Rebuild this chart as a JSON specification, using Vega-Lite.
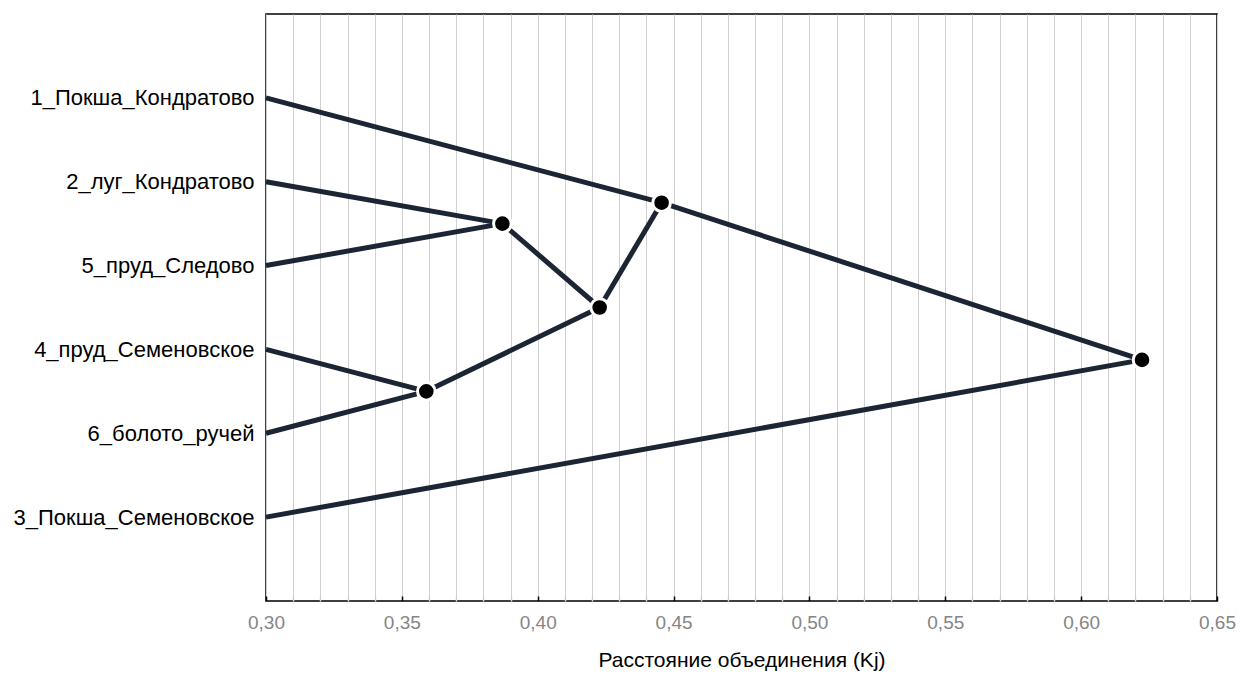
{
  "$schema": "https://vega.github.io/schema/vega-lite/v6.json",
  "width": 951,
  "height": 587,
  "autosize": "none",
  "padding": {"left": 266, "top": 14, "right": 23, "bottom": 74},
  "background": "white",
  "config": {
    "view": {"stroke": "#000000", "strokeWidth": 1.5},
    "font": "Liberation Sans"
  },
  "datasets": {
    "segments": [
      {"from": "1_Покша_Кондратово", "x": 0.30, "y": 1, "x2": 0.4456, "y2": 2.25},
      {"from": "2_луг_Кондратово", "x": 0.30, "y": 2, "x2": 0.387, "y2": 2.5},
      {"from": "5_пруд_Следово", "x": 0.30, "y": 3, "x2": 0.387, "y2": 2.5},
      {"from": "4_пруд_Семеновское", "x": 0.30, "y": 4, "x2": 0.359, "y2": 4.5},
      {"from": "6_болото_ручей", "x": 0.30, "y": 5, "x2": 0.359, "y2": 4.5},
      {"from": "3_Покша_Семеновское", "x": 0.30, "y": 6, "x2": 0.6224, "y2": 4.125},
      {"from": "A", "x": 0.387, "y": 2.5, "x2": 0.4228, "y2": 3.5},
      {"from": "B", "x": 0.359, "y": 4.5, "x2": 0.4228, "y2": 3.5},
      {"from": "C", "x": 0.4228, "y": 3.5, "x2": 0.4456, "y2": 2.25},
      {"from": "D", "x": 0.4456, "y": 2.25, "x2": 0.6224, "y2": 4.125}
    ],
    "nodes": [
      {"node": "A", "x": 0.387, "y": 2.5},
      {"node": "B", "x": 0.359, "y": 4.5},
      {"node": "C", "x": 0.4228, "y": 3.5},
      {"node": "D", "x": 0.4456, "y": 2.25},
      {"node": "E", "x": 0.6224, "y": 4.125}
    ]
  },
  "encoding": {
    "x": {
      "field": "x", "type": "quantitative",
      "scale": {"domain": [0.30, 0.65], "nice": false, "zero": false},
      "axis": {
        "values": [0.30,0.31,0.32,0.33,0.34,0.35,0.36,0.37,0.38,0.39,0.40,0.41,0.42,0.43,0.44,0.45,0.46,0.47,0.48,0.49,0.50,0.51,0.52,0.53,0.54,0.55,0.56,0.57,0.58,0.59,0.60,0.61,0.62,0.63,0.64,0.65],
        "labelExpr": "round(datum.value*100) % 5 == 0 ? replace(format(datum.value, '.2f'), '.', ',') : ''",
        "labelOverlap": false,
        "grid": true, "gridColor": "#d0d0d0", "gridWidth": 1,
        "ticks": true, "tickSize": -5, "tickWidth": 1.5,
        "tickColor": {"condition": {"test": "round(datum.value*100) % 5 == 0", "value": "#000000"}, "value": "#d0d0d0"},
        "domain": false,
        "labelColor": "#858585", "labelFontSize": 19, "labelPadding": 17,
        "labelFlush": false,
        "title": "Расстояние объединения (Kj)",
        "titleFontSize": 21, "titleFontWeight": "normal", "titleColor": "#000000",
        "titlePadding": 17
      }
    },
    "y": {
      "field": "y", "type": "quantitative",
      "scale": {"domain": [0, 7], "reverse": true, "nice": false, "zero": false},
      "axis": {
        "values": [1, 2, 3, 4, 5, 6],
        "labelExpr": "['', '1_Покша_Кондратово', '2_луг_Кондратово', '5_пруд_Следово', '4_пруд_Семеновское', '6_болото_ручей', '3_Покша_Семеновское'][datum.value]",
        "grid": false, "ticks": false, "domain": false,
        "labelColor": "#000000", "labelFontSize": 22, "labelPadding": 12, "labelLimit": 400,
        "title": null
      }
    }
  },
  "layer": [
    {
      "data": {"name": "segments"},
      "mark": {"type": "rule", "color": "#1b2533", "strokeWidth": 5, "strokeCap": "butt"},
      "encoding": {
        "x2": {"field": "x2"},
        "y2": {"field": "y2"}
      }
    },
    {
      "data": {"name": "nodes"},
      "mark": {"type": "point", "filled": true, "color": "#000000", "size": 310, "stroke": "#ffffff", "strokeWidth": 3, "opacity": 1, "strokeOpacity": 1},
      "encoding": {}
    }
  ]
}
